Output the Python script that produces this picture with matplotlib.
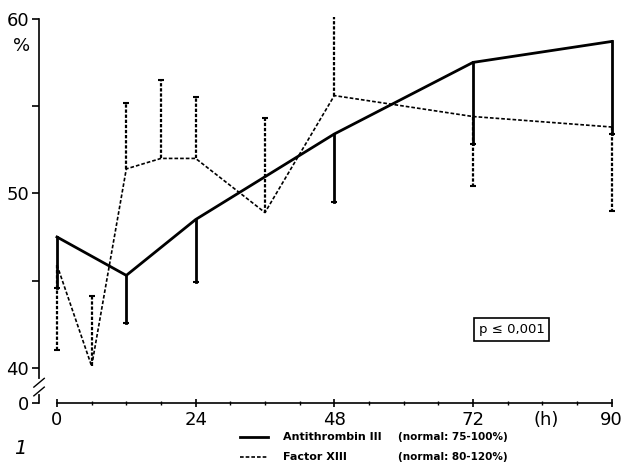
import matplotlib
matplotlib.use("Agg")
import matplotlib.pyplot as plt
from matplotlib.lines import Line2D

# ---- data ----
hours_at = [0, 12, 24, 48, 72, 96]
at_mean = [47.5, 45.3, 48.5, 53.4, 57.5, 58.7]
at_sd = [2.9, 2.7, 3.6, 3.9, 4.7, 5.3]

hours_f13 = [0, 6, 12, 18, 24, 36, 48, 72, 96]
f13_mean = [45.9, 40.1, 51.4, 52.0, 52.0, 48.9, 55.6, 54.4, 53.8]
f13_sd = [4.9, 4.0, 3.8, 4.5, 3.5, 5.4, 4.7, 4.0, 4.8]
f13_side = [-1, 1, 1, 1, 1, 1, 1, -1, -1]   # which way the bar goes

x_ticks = [0, 24, 48, 72, 96]
x_labels = ['0', '24', '48', '72', '90']
y_ticks = [38.0, 40, 45, 50, 55, 60]     # 38 stands in for the broken "0"
y_labels = ['0', '40', '', '50', '', '60']

plt.rcParams['font.family'] = ['DejaVu Sans']

fig = plt.figure(figsize=(6.26, 4.63), dpi=100)
ax = fig.add_axes([0.0623, 0.1296, 0.918, 0.834])
ax.set_xlim(-3.11, 96.35)
ax.set_ylim(37.99, 60.11)

dash = (0, (2.2, 1.2))

# Factor XIII (dashed)
ax.plot(hours_f13, f13_mean, color='black', lw=1.2, linestyle=dash)
for h, m, s, d in zip(hours_f13, f13_mean, f13_sd, f13_side):
    end = m + d * s
    ax.plot([h, h], [m, end], color='black', lw=1.6, linestyle=(0, (1.5, 0.8)))
    ax.plot([h], [end], marker='_', ms=4, mew=1.5, color='black')

# Antithrombin III (solid)
ax.plot(hours_at, at_mean, color='black', lw=2.0, solid_joinstyle='miter')
for h, m, s in zip(hours_at, at_mean, at_sd):
    ax.plot([h, h], [m, m - s], color='black', lw=2.0)
    ax.plot([h], [m - s], marker='_', ms=4, mew=1.5, color='black')

# axes styling
for sp in ['top', 'right']:
    ax.spines[sp].set_visible(False)
ax.spines['bottom'].set_bounds(0, 96)
ax.spines['left'].set_bounds(37.99, 60)
ax.spines['left'].set_linewidth(1.2)
ax.spines['bottom'].set_linewidth(1.2)

ax.set_xticks(x_ticks)
ax.set_xticklabels(x_labels)
ax.set_xticks(range(0, 97, 6), minor=True)
ax.tick_params(axis='x', which='major', direction='inout', length=6, width=1.2,
               labelsize=13, pad=3)
ax.tick_params(axis='x', which='minor', direction='inout', length=3, width=1)
ax.set_yticks(y_ticks)
ax.set_yticklabels(y_labels)
ax.tick_params(axis='y', direction='out', length=5, width=1.2, labelsize=13, pad=2)

# axis break marks on the y axis
ax.plot([-3.11, -3.11], [38.6, 39.25], color='white', lw=3, clip_on=False, zorder=5)
for yb in [38.65, 39.15]:
    ax.plot([-4.0, -2.2], [yb - 0.25, yb + 0.25], color='black', lw=1.0,
            clip_on=False, zorder=6)


def fig_xy(px, py):
    return px / 626, 1 - py / 463


# unit labels
ux, uy = fig_xy(22, 46)
fig.text(ux, uy, '%', fontsize=13, ha='center', va='center')
hx, hy = fig_xy(546, 420)
fig.text(hx, hy, '(h)', fontsize=13, ha='center', va='center')

# p-value box
ax.text(78.7, 42.2, 'p \u2264 0,001', fontsize=9.5, ha='center', va='center',
        bbox=dict(boxstyle='square,pad=0.35', fc='white', ec='black', lw=1.2))

# legend drawn by hand under the axis
for py, style, lw, name, normal in [
        (437, '-', 2.0, 'Antithrombin III', '(normal: 75-100%)'),
        (457, (0, (2.2, 1.2)), 1.2, 'Factor XIII', '(normal: 80-120%)')]:
    x0, y0 = fig_xy(240, py)
    x1, _ = fig_xy(268, py)
    fig.add_artist(Line2D([x0, x1], [y0, y0], color='black', lw=lw,
                          linestyle=style, transform=fig.transFigure))
    tx, ty = fig_xy(283, py)
    fig.text(tx, ty, name, fontsize=8, fontweight='bold', va='center')
    nx, _ = fig_xy(398, py)
    fig.text(nx, ty, normal, fontsize=7.5, fontweight='semibold', va='center')

fx, fy = fig_xy(14, 448)
fig.text(fx, fy, '1', fontsize=14, style='italic', va='center')

fig.savefig('out.png', dpi=100)
